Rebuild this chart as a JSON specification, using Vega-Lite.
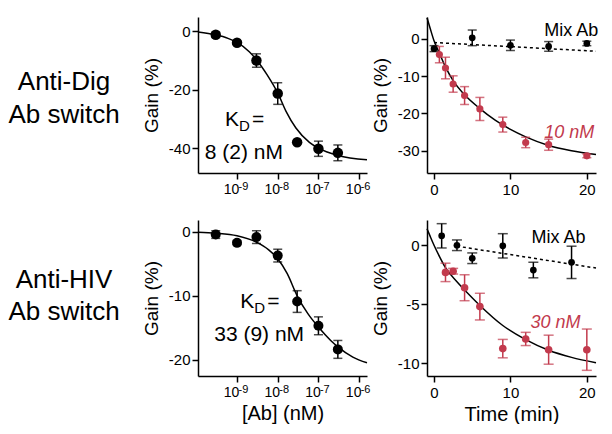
{
  "$schema": "https://vega.github.io/schema/vega-lite/v6.json",
  "padding": {"left": 0, "top": 14, "right": 0, "bottom": 0},
  "autosize": {"type": "pad"},
  "background": "white",
  "columns": 3,
  "spacing": {"row": 47, "column": 60},
  "bounds": "flush",
  "datasets": {
    "lab_top": [
      {"px": 0.464, "py": 0.534, "label": "Anti-Dig"},
      {"px": 0.464, "py": 0.321, "label": "Ab switch"}
    ],
    "lab_bot": [
      {"px": 0.464, "py": 0.564, "label": "Anti-HIV"},
      {"px": 0.464, "py": 0.361, "label": "Ab switch"}
    ],
    "ticks_log": [{"conc": 1e-9}, {"conc": 1e-8}, {"conc": 1e-7}, {"conc": 1e-6}],
    "tl_pts": [
      {"conc": 3e-10, "gain": -1.2, "err": 0.9},
      {"conc": 1e-9, "gain": -3.9, "err": 0.5},
      {"conc": 3e-9, "gain": -10.0, "err": 2.3},
      {"conc": 1e-8, "gain": -21.3, "err": 3.7},
      {"conc": 3e-8, "gain": -38.0, "err": 0.5},
      {"conc": 1e-7, "gain": -40.2, "err": 2.6},
      {"conc": 3e-7, "gain": -41.6, "err": 2.7}
    ],
    "tl_fit": [
      {"conc": 1.1e-10, "gain": -0.2},
      {"conc": 3e-10, "gain": -1.2},
      {"conc": 6e-10, "gain": -2.4},
      {"conc": 1e-9, "gain": -3.8},
      {"conc": 2e-9, "gain": -7.0},
      {"conc": 3e-9, "gain": -9.7},
      {"conc": 5.5e-9, "gain": -14.9},
      {"conc": 1e-8, "gain": -21.1},
      {"conc": 1.6e-8, "gain": -27.4},
      {"conc": 2.8e-8, "gain": -33.1},
      {"conc": 6e-8, "gain": -38.0},
      {"conc": 1e-7, "gain": -40.0},
      {"conc": 3e-7, "gain": -42.5},
      {"conc": 1.56e-6, "gain": -44.0}
    ],
    "tl_k": [{"conc": 1.48e-9, "gain": -32.5}],
    "tl_ann": [{"conc": 1.48e-9, "gain": -43.8, "label": "8 (2) nM"}],
    "tr_pts": [
      {"series": "Mix Ab", "t": 0, "gain": -2.6, "err": 0.8},
      {"series": "Mix Ab", "t": 5, "gain": 0.3, "err": 2.1},
      {"series": "Mix Ab", "t": 10, "gain": -1.7, "err": 1.4},
      {"series": "Mix Ab", "t": 15, "gain": -2.0, "err": 1.3},
      {"series": "Mix Ab", "t": 20, "gain": -1.2, "err": 0.6},
      {"series": "10 nM", "t": 0.7, "gain": -4.2, "err": 2.2},
      {"series": "10 nM", "t": 1.5, "gain": -7.8, "err": 2.9},
      {"series": "10 nM", "t": 2.5, "gain": -12.1, "err": 2.2},
      {"series": "10 nM", "t": 4, "gain": -15.2, "err": 2.4},
      {"series": "10 nM", "t": 6, "gain": -18.8, "err": 3.1},
      {"series": "10 nM", "t": 9, "gain": -23.0, "err": 2.0},
      {"series": "10 nM", "t": 12, "gain": -27.8, "err": 1.4},
      {"series": "10 nM", "t": 15, "gain": -28.4, "err": 1.5},
      {"series": "10 nM", "t": 20, "gain": -31.4, "err": 0.5}
    ],
    "tr_fit": [
      {"t": -0.92, "gain": 5.7},
      {"t": -0.5, "gain": 2.8},
      {"t": 0, "gain": -0.5},
      {"t": 0.7, "gain": -3.8},
      {"t": 1.5, "gain": -7.5},
      {"t": 2.5, "gain": -11.2},
      {"t": 4, "gain": -15.0},
      {"t": 6, "gain": -18.7},
      {"t": 8, "gain": -21.8},
      {"t": 10, "gain": -24.3},
      {"t": 12, "gain": -26.3},
      {"t": 15, "gain": -28.6},
      {"t": 18, "gain": -30.0},
      {"t": 21.2, "gain": -31.0}
    ],
    "tr_mix": [
      {"t": 0, "gain": -0.95},
      {"t": 21.2, "gain": -3.3}
    ],
    "tr_mixlab": [{"t": 17.95, "gain": 0.78, "label": "Mix Ab"}],
    "tr_conclab": [{"t": 17.7, "gain": -26.5, "label": "10 nM"}],
    "bl_pts": [
      {"conc": 3e-10, "gain": -0.4, "err": 0.6},
      {"conc": 1e-9, "gain": -1.7, "err": 0.3},
      {"conc": 3e-9, "gain": -0.8, "err": 1.0},
      {"conc": 1e-8, "gain": -3.7, "err": 1.0},
      {"conc": 3e-8, "gain": -10.9, "err": 1.7},
      {"conc": 1e-7, "gain": -14.7, "err": 1.4},
      {"conc": 3e-7, "gain": -18.4, "err": 1.4}
    ],
    "bl_fit": [
      {"conc": 1.1e-10, "gain": -0.05},
      {"conc": 3e-10, "gain": -0.2},
      {"conc": 1e-9, "gain": -0.6},
      {"conc": 3e-9, "gain": -1.6},
      {"conc": 6e-9, "gain": -2.8},
      {"conc": 1e-8, "gain": -4.2},
      {"conc": 1.7e-8, "gain": -6.5},
      {"conc": 3e-8, "gain": -10.0},
      {"conc": 5.5e-8, "gain": -12.8},
      {"conc": 1e-7, "gain": -14.9},
      {"conc": 2e-7, "gain": -17.0},
      {"conc": 3e-7, "gain": -18.0},
      {"conc": 7e-7, "gain": -19.6},
      {"conc": 1.56e-6, "gain": -20.5}
    ],
    "bl_k": [{"conc": 3.5e-9, "gain": -11.9}],
    "bl_ann": [{"conc": 3.5e-9, "gain": -17.1, "label": "33 (9) nM"}],
    "br_pts": [
      {"series": "Mix Ab", "t": 1, "gain": 0.8, "err": 1.03},
      {"series": "Mix Ab", "t": 3, "gain": 0.0, "err": 0.45},
      {"series": "Mix Ab", "t": 5, "gain": -1.1, "err": 0.45},
      {"series": "Mix Ab", "t": 9, "gain": -0.05, "err": 1.03},
      {"series": "Mix Ab", "t": 13, "gain": -2.1, "err": 0.66},
      {"series": "Mix Ab", "t": 18, "gain": -1.45, "err": 1.37},
      {"series": "30 nM", "t": 1.5, "gain": -2.3, "err": 0.78},
      {"series": "30 nM", "t": 2.5, "gain": -2.2, "err": 0.24},
      {"series": "30 nM", "t": 4, "gain": -3.6, "err": 1.1},
      {"series": "30 nM", "t": 6, "gain": -5.2, "err": 1.13},
      {"series": "30 nM", "t": 9, "gain": -8.76, "err": 0.78},
      {"series": "30 nM", "t": 12, "gain": -7.94, "err": 0.56},
      {"series": "30 nM", "t": 15, "gain": -8.85, "err": 1.23},
      {"series": "30 nM", "t": 20, "gain": -8.85, "err": 1.75}
    ],
    "br_fit": [
      {"t": -0.92, "gain": 1.4},
      {"t": -0.5, "gain": 0.75},
      {"t": 0, "gain": 0.0},
      {"t": 0.75, "gain": -1.0},
      {"t": 1.5, "gain": -1.9},
      {"t": 3, "gain": -3.1},
      {"t": 4, "gain": -3.8},
      {"t": 6, "gain": -5.1},
      {"t": 9, "gain": -6.8},
      {"t": 12, "gain": -8.0},
      {"t": 15, "gain": -8.9},
      {"t": 18, "gain": -9.5},
      {"t": 21.2, "gain": -9.95}
    ],
    "br_mix": [
      {"t": 3, "gain": -0.08},
      {"t": 21.2, "gain": -1.93}
    ],
    "br_mixlab": [{"t": 16.3, "gain": 0.22, "label": "Mix Ab"}],
    "br_conclab": [{"t": 15.9, "gain": -6.98, "label": "30 nM"}]
  },
  "concat": [
    {
      "width": 138, "height": 156,
      "data": {"name": "lab_top"},
      "mark": {"type": "text", "fontSize": 26, "align": "center", "baseline": "alphabetic", "color": "black"},
      "encoding": {
        "x": {"field": "px", "type": "quantitative", "scale": {"domain": [0, 1]}, "axis": null},
        "y": {"field": "py", "type": "quantitative", "scale": {"domain": [0, 1]}, "axis": null},
        "text": {"field": "label"}
      }
    },
    {
      "width": 169, "height": 156,
      "resolve": {"axis": {"x": "independent"}},
      "layer": [
        {
          "encoding": {
            "x": {"field": "conc", "type": "quantitative", "scale": {"type": "log", "domain": [1.1e-10, 1.56e-6], "nice": false},
                  "axis": {"values": [1e-9, 1e-8, 1e-7, 1e-6], "labelExpr": "'10'", "labelFontSize": 14, "labelOffset": -6, "title": null}},
            "y": {"field": "gain", "type": "quantitative", "scale": {"domain": [-48.5, 4.9], "nice": false, "zero": false},
                  "axis": {"values": [0, -20, -40], "labelExpr": "'' + datum.value", "title": "Gain (%)"}}
          },
          "layer": [
            {"data": {"name": "tl_fit"}, "mark": {"type": "line", "color": "black", "strokeWidth": 1.5, "interpolate": "monotone"}},
            {"data": {"name": "tl_pts"}, "mark": {"type": "errorbar", "ticks": true, "size": 9, "thickness": 1.5, "color": "black"}, "encoding": {"yError": {"field": "err"}}},
            {"data": {"name": "tl_pts"}, "mark": {"type": "circle", "size": 110, "color": "black", "opacity": 1}},
            {"data": {"name": "tl_k"}, "mark": {"type": "text", "fontSize": 21, "align": "right", "baseline": "alphabetic", "dx": -5, "color": "black"}, "encoding": {"text": {"value": "K"}}},
            {"data": {"name": "tl_k"}, "mark": {"type": "text", "fontSize": 15, "align": "left", "baseline": "alphabetic", "dx": -5, "dy": 5, "color": "black"}, "encoding": {"text": {"value": "D"}}},
            {"data": {"name": "tl_k"}, "mark": {"type": "text", "fontSize": 21, "align": "left", "baseline": "alphabetic", "dx": 8, "color": "black"}, "encoding": {"text": {"value": "="}}},
            {"data": {"name": "tl_ann"}, "mark": {"type": "text", "fontSize": 21, "align": "center", "baseline": "alphabetic", "color": "black"}, "encoding": {"text": {"field": "label"}}}
          ]
        },
        {
          "data": {"name": "ticks_log"},
          "mark": {"type": "rule", "opacity": 0},
          "encoding": {
            "x": {"field": "conc", "type": "quantitative", "scale": {"type": "log", "domain": [1.1e-10, 1.56e-6], "nice": false},
                  "axis": {"orient": "bottom", "values": [1e-9, 1e-8, 1e-7, 1e-6], "labelExpr": "datum.value < 3e-9 ? '-9' : datum.value < 3e-8 ? '-8' : datum.value < 3e-7 ? '-7' : '-6'", "labelFontSize": 11, "labelAlign": "left", "labelOffset": 1, "ticks": false, "tickSize": 0, "domain": false, "labelPadding": 7, "title": null}}
          }
        }
      ]
    },
    {
      "width": 169, "height": 156,
      "encoding": {
        "x": {"field": "t", "type": "quantitative", "scale": {"domain": [-0.92, 21.2], "nice": false, "zero": false},
              "axis": {"values": [0, 10, 20], "title": null}},
        "y": {"field": "gain", "type": "quantitative", "scale": {"domain": [-36.0, 5.9], "nice": false, "zero": false},
              "axis": {"values": [0, -10, -20, -30], "labelExpr": "'' + datum.value", "title": "Gain (%)"}}
      },
      "layer": [
        {"data": {"name": "tr_mix"}, "mark": {"type": "line", "color": "black", "strokeWidth": 1.5, "strokeDash": [3, 3]}},
        {"data": {"name": "tr_fit"}, "mark": {"type": "line", "color": "black", "strokeWidth": 1.5, "interpolate": "monotone"}},
        {"data": {"name": "tr_pts"}, "mark": {"type": "errorbar", "ticks": true, "size": 9, "thickness": 1.5},
         "encoding": {"yError": {"field": "err"}, "color": {"field": "series", "type": "nominal", "scale": {"domain": ["Mix Ab", "10 nM", "30 nM"], "range": ["black", "#c23a4d", "#c23a4d"]}, "legend": null}}},
        {"data": {"name": "tr_pts"}, "mark": {"type": "circle", "opacity": 1},
         "encoding": {"color": {"field": "series", "type": "nominal", "legend": null}, "size": {"field": "series", "type": "nominal", "scale": {"domain": ["Mix Ab", "10 nM", "30 nM"], "range": [45, 58, 58]}, "legend": null}}},
        {"data": {"name": "tr_mixlab"}, "mark": {"type": "text", "fontSize": 18, "align": "center", "baseline": "alphabetic", "color": "black"},
         "encoding": {"text": {"field": "label"}}},
        {"data": {"name": "tr_conclab"}, "mark": {"type": "text", "fontSize": 18, "align": "center", "baseline": "alphabetic", "color": "#c23a4d", "fontStyle": "italic"},
         "encoding": {"text": {"field": "label"}}}
      ]
    },
    {
      "width": 138, "height": 156,
      "data": {"name": "lab_bot"},
      "mark": {"type": "text", "fontSize": 26, "align": "center", "baseline": "alphabetic", "color": "black"},
      "encoding": {
        "x": {"field": "px", "type": "quantitative", "scale": {"domain": [0, 1]}, "axis": null},
        "y": {"field": "py", "type": "quantitative", "scale": {"domain": [0, 1]}, "axis": null},
        "text": {"field": "label"}
      }
    },
    {
      "width": 169, "height": 156,
      "resolve": {"axis": {"x": "independent"}},
      "layer": [
        {
          "encoding": {
            "x": {"field": "conc", "type": "quantitative", "scale": {"type": "log", "domain": [1.1e-10, 1.56e-6], "nice": false},
                  "axis": {"values": [1e-9, 1e-8, 1e-7, 1e-6], "labelExpr": "'10'", "labelFontSize": 14, "labelOffset": -6, "title": "[Ab] (nM)"}},
            "y": {"field": "gain", "type": "quantitative", "scale": {"domain": [-22.57, 1.88], "nice": false, "zero": false},
                  "axis": {"values": [0, -10, -20], "labelExpr": "'' + datum.value", "title": "Gain (%)"}}
          },
          "layer": [
            {"data": {"name": "bl_fit"}, "mark": {"type": "line", "color": "black", "strokeWidth": 1.5, "interpolate": "monotone"}},
            {"data": {"name": "bl_pts"}, "mark": {"type": "errorbar", "ticks": true, "size": 9, "thickness": 1.5, "color": "black"}, "encoding": {"yError": {"field": "err"}}},
            {"data": {"name": "bl_pts"}, "mark": {"type": "circle", "size": 100, "color": "black", "opacity": 1}},
            {"data": {"name": "bl_k"}, "mark": {"type": "text", "fontSize": 21, "align": "right", "baseline": "alphabetic", "dx": -5, "color": "black"}, "encoding": {"text": {"value": "K"}}},
            {"data": {"name": "bl_k"}, "mark": {"type": "text", "fontSize": 15, "align": "left", "baseline": "alphabetic", "dx": -5, "dy": 5, "color": "black"}, "encoding": {"text": {"value": "D"}}},
            {"data": {"name": "bl_k"}, "mark": {"type": "text", "fontSize": 21, "align": "left", "baseline": "alphabetic", "dx": 8, "color": "black"}, "encoding": {"text": {"value": "="}}},
            {"data": {"name": "bl_ann"}, "mark": {"type": "text", "fontSize": 21, "align": "center", "baseline": "alphabetic", "color": "black"}, "encoding": {"text": {"field": "label"}}}
          ]
        },
        {
          "data": {"name": "ticks_log"},
          "mark": {"type": "rule", "opacity": 0},
          "encoding": {
            "x": {"field": "conc", "type": "quantitative", "scale": {"type": "log", "domain": [1.1e-10, 1.56e-6], "nice": false},
                  "axis": {"orient": "bottom", "values": [1e-9, 1e-8, 1e-7, 1e-6], "labelExpr": "datum.value < 3e-9 ? '-9' : datum.value < 3e-8 ? '-8' : datum.value < 3e-7 ? '-7' : '-6'", "labelFontSize": 11, "labelAlign": "left", "labelOffset": 1, "ticks": false, "tickSize": 0, "domain": false, "labelPadding": 7, "title": null}}
          }
        }
      ]
    },
    {
      "width": 169, "height": 156,
      "encoding": {
        "x": {"field": "t", "type": "quantitative", "scale": {"domain": [-0.92, 21.2], "nice": false, "zero": false},
              "axis": {"values": [0, 10, 20], "title": "Time (min)"}},
        "y": {"field": "gain", "type": "quantitative", "scale": {"domain": [-11.08, 2.14], "nice": false, "zero": false},
              "axis": {"values": [0, -5, -10], "labelExpr": "'' + datum.value", "title": "Gain (%)"}}
      },
      "layer": [
        {"data": {"name": "br_mix"}, "mark": {"type": "line", "color": "black", "strokeWidth": 1.5, "strokeDash": [3, 3]}},
        {"data": {"name": "br_fit"}, "mark": {"type": "line", "color": "black", "strokeWidth": 1.5, "interpolate": "monotone"}},
        {"data": {"name": "br_pts"}, "mark": {"type": "errorbar", "ticks": true, "size": 10, "thickness": 1.5},
         "encoding": {"yError": {"field": "err"}, "color": {"field": "series", "type": "nominal", "scale": {"domain": ["Mix Ab", "10 nM", "30 nM"], "range": ["black", "#c23a4d", "#c23a4d"]}, "legend": null}}},
        {"data": {"name": "br_pts"}, "mark": {"type": "circle", "opacity": 1},
         "encoding": {"color": {"field": "series", "type": "nominal", "legend": null}, "size": {"field": "series", "type": "nominal", "scale": {"domain": ["Mix Ab", "10 nM", "30 nM"], "range": [50, 58, 58]}, "legend": null}}},
        {"data": {"name": "br_mixlab"}, "mark": {"type": "text", "fontSize": 18, "align": "center", "baseline": "alphabetic", "color": "black"},
         "encoding": {"text": {"field": "label"}}},
        {"data": {"name": "br_conclab"}, "mark": {"type": "text", "fontSize": 18, "align": "center", "baseline": "alphabetic", "color": "#c23a4d", "fontStyle": "italic"},
         "encoding": {"text": {"field": "label"}}}
      ]
    }
  ],
  "config": {
    "font": "Liberation Sans",
    "view": {"stroke": null},
    "axis": {
      "grid": false,
      "domainColor": "black",
      "domainWidth": 1.5,
      "tickColor": "black",
      "tickWidth": 1.5,
      "tickSize": 6,
      "labelFont": "Liberation Sans",
      "labelFontSize": 15,
      "labelColor": "black",
      "labelPadding": 2,
      "labelFlush": false,
      "labelOverlap": false,
      "labelBound": false,
      "titleFont": "Liberation Sans",
      "titleFontSize": 19,
      "titleFontWeight": "normal",
      "titleColor": "black"
    },
    "axisX": {"labelPadding": 3, "titlePadding": 4, "titleFontSize": 20},
    "axisY": {"titlePadding": 7},
    "text": {"font": "Liberation Sans"}
  }
}
